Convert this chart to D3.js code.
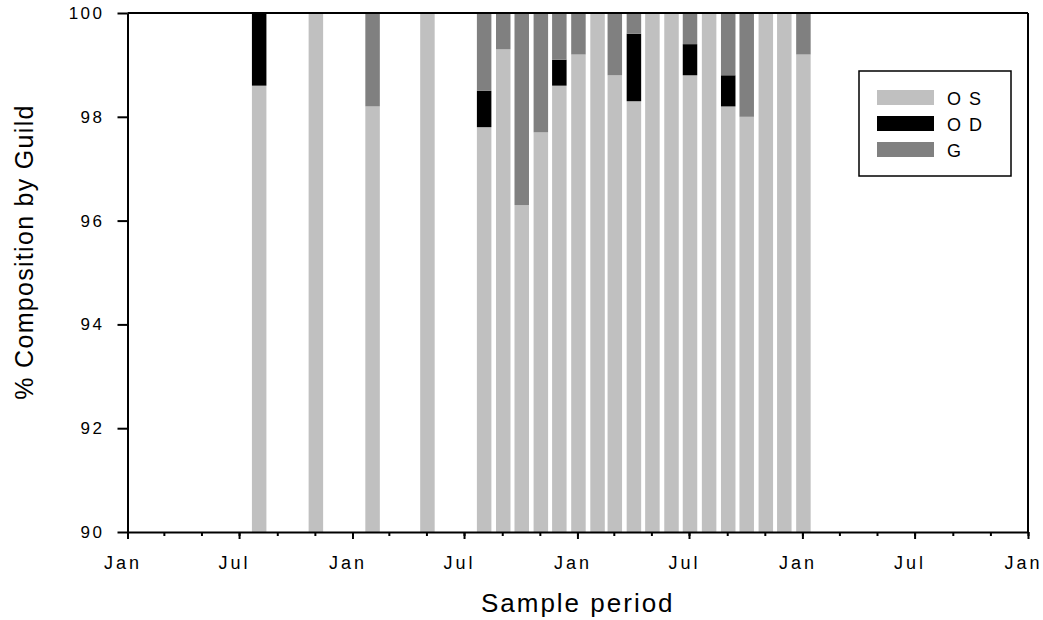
<!DOCTYPE html>
<html>
<head>
<meta charset="utf-8">
<script src="https://cdn.jsdelivr.net/npm/d3@7"></script>
<style>
  html, body { margin: 0; padding: 0; background: #fff; }
  svg { display: block; font-family: "Liberation Sans", Arial, sans-serif; }
</style>
</head>
<body>
<svg id="chart" width="1043" height="620"></svg>
<script>
// ---- data ----
const sampleDates = [
  "2001-08-01","2001-11-01","2002-02-01","2002-05-01",
  "2002-08-01","2002-09-01","2002-10-01","2002-11-01","2002-12-01",
  "2003-01-01","2003-02-01","2003-03-01","2003-04-01","2003-05-01","2003-06-01",
  "2003-07-01","2003-08-01","2003-09-01","2003-10-01","2003-11-01","2003-12-01",
  "2004-01-01"
];
const seriesKeys = ["OS", "OD", "G"];
const valuesOS = [98.6,100,98.2,100,97.8,99.3,96.3,97.7,98.6,99.2,100,98.8,98.3,100,100,98.8,100,98.2,98.0,100,100,99.2];
const valuesOD = [1.4,0,0,0,0.7,0,0,0,0.5,0,0,0,1.3,0,0,0.6,0,0.6,0,0,0,0];
const valuesG  = [0,0,1.8,0,1.5,0.7,3.7,2.3,0.9,0.8,0,1.2,0.4,0,0,0.6,0,1.2,2.0,0,0,0.8];
const yTickValues = [90, 92, 94, 96, 98, 100];
const xDomain = ["2001-01-01", "2005-01-01"];

// ---- build ----
const parse = d3.utcParse("%Y-%m-%d");
const rows = sampleDates.map((d, i) => ({
  date: parse(d), OS: valuesOS[i], OD: valuesOD[i], G: valuesG[i]
}));
const colors = { OS: "#c0c0c0", OD: "#000000", G: "#808080" };

const svg = d3.select("#chart");
const mLeft = 127.5, mRight = 1028, mTop = 13, mBottom = 532;

const x = d3.scaleUtc().domain(xDomain.map(parse)).range([mLeft, mRight]);
const y = d3.scaleLinear().domain([90, 100]).range([mBottom, mTop]).clamp(true);

const stacked = d3.stack().keys(seriesKeys)(rows);
const barW = 14.5;

svg.append("g").selectAll("g")
  .data(stacked).join("g")
  .attr("fill", d => colors[d.key])
  .selectAll("rect")
  .data(d => d).join("rect")
  .attr("x", d => x(d.data.date) + 1 - barW / 2)
  .attr("width", barW)
  .attr("y", d => y(d[1]))
  .attr("height", d => Math.max(0, y(d[0]) - y(d[1])));

// frame top + right
svg.append("line").attr("x1", mLeft).attr("x2", mRight).attr("y1", mTop).attr("y2", mTop)
  .attr("stroke", "#000").attr("stroke-width", 2);
svg.append("line").attr("x1", mRight).attr("x2", mRight).attr("y1", mTop).attr("y2", mBottom)
  .attr("stroke", "#000").attr("stroke-width", 2);

// x axis
const majorTicks = d3.utcMonth.every(6).range(x.domain()[0], d3.utcDay.offset(x.domain()[1], 1));
const minorTicks = d3.utcMonth.every(2).range(x.domain()[0], d3.utcDay.offset(x.domain()[1], 1));

const gxMinor = svg.append("g").attr("transform", `translate(0,${mBottom})`)
  .call(d3.axisBottom(x).tickValues(minorTicks).tickSize(4).tickFormat(""));
gxMinor.select(".domain").remove();
gxMinor.selectAll("line").attr("stroke-width", 2);

const gx = svg.append("g").attr("transform", `translate(0,${mBottom})`)
  .call(d3.axisBottom(x).tickValues(majorTicks).tickSize(7).tickSizeOuter(0).tickFormat(d3.utcFormat("%b")));
gx.select(".domain").attr("stroke-width", 2);
gx.selectAll("line").attr("stroke-width", 2);
gx.selectAll("text")
  .attr("y", 24).attr("dy", "0.71em").attr("dx", -5)
  .attr("font-size", 18).attr("letter-spacing", 3)
  .attr("font-family", "Liberation Sans, Arial, sans-serif").attr("fill", "#000");

// y axis
const gy = svg.append("g").attr("transform", `translate(${mLeft},0)`)
  .call(d3.axisLeft(y).tickValues(yTickValues).tickSize(10).tickSizeOuter(0).tickPadding(13).tickFormat(d3.format("d")));
gy.select(".domain").attr("stroke-width", 2);
gy.selectAll("line").attr("stroke-width", 2);
gy.selectAll("text")
  .attr("font-size", 17).attr("letter-spacing", 2.5)
  .attr("font-family", "Liberation Sans, Arial, sans-serif").attr("fill", "#000");

// axis titles
svg.append("text")
  .attr("x", (mLeft + mRight) / 2).attr("y", 612)
  .attr("text-anchor", "middle").attr("font-size", 26).attr("letter-spacing", 2)
  .text("Sample period");

svg.append("text")
  .attr("transform", `translate(33,252) rotate(-90)`)
  .attr("text-anchor", "middle").attr("font-size", 25).attr("letter-spacing", 1.3)
  .text("% Composition by Guild");

// legend
const lg = svg.append("g");
lg.append("rect").attr("x", 859).attr("y", 71).attr("width", 152).attr("height", 105)
  .attr("fill", "#fff").attr("stroke", "#000").attr("stroke-width", 1.5);
const items = lg.selectAll("g.item").data(seriesKeys).join("g").attr("class", "item")
  .attr("transform", (d, i) => `translate(877,${90 + i * 26})`);
items.append("rect").attr("width", 57).attr("height", 15).attr("fill", d => colors[d]);
items.append("text").attr("x", 70).attr("y", 14.5)
  .attr("font-size", 18).attr("letter-spacing", 8).text(d => d);
</script>
</body>
</html>
